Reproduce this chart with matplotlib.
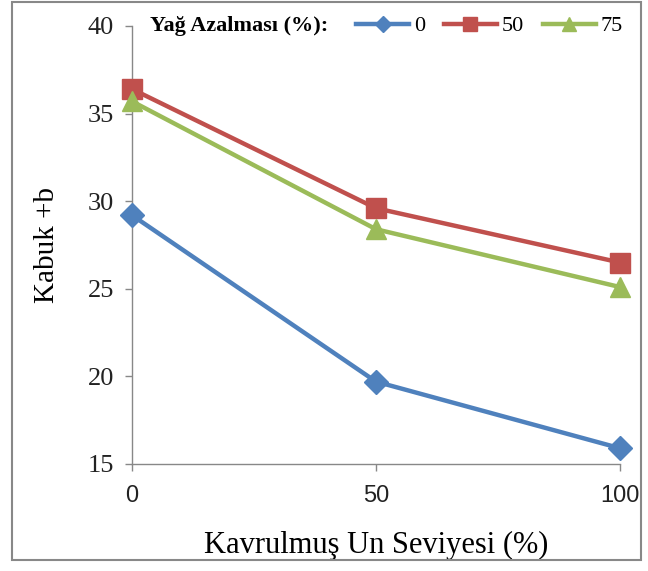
import matplotlib.pyplot as plt
from matplotlib.patches import Rectangle

# Kavrulmus un seviyesi (%)
un_seviyesi = [0, 50, 100]
# Yag azalmasi seviyeleri
yag_etiket = ['0', '50', '75']
kabuk_b_0 = [29.2, 19.7, 15.9]
kabuk_b_50 = [36.4, 29.6, 26.5]
kabuk_b_75 = [35.7, 28.4, 25.1]

renkler = ['#4F81BD', '#C0504D', '#9BBB59']
isaretler = ['D', 's', '^']
boylar = [12, 14, 15]

plt.rcParams['font.family'] = ['Liberation Serif', 'DejaVu Serif']

fig = plt.figure(figsize=(6.48, 5.71), dpi=100)
ax = fig.add_axes([132/648, 1-464/571, 488/648, 438/571])

seriler = [kabuk_b_0, kabuk_b_50, kabuk_b_75]
for i, s in enumerate(seriler):
    ax.plot(un_seviyesi, s, color=renkler[i], lw=3.2, marker=isaretler[i],
            markersize=boylar[i], label=yag_etiket[i], clip_on=False, zorder=3+i)

ax.set_xlim(0, 100)
ax.set_ylim(15, 40)
ax.set_xticks([0, 50, 100])
ax.set_yticks([15, 20, 25, 30, 35, 40])
for sp in ['top', 'right']:
    ax.spines[sp].set_visible(False)
for sp in ['left', 'bottom']:
    ax.spines[sp].set_color('#888888')
    ax.spines[sp].set_linewidth(1.0)
ax.tick_params(axis='both', direction='out', length=5, color='#888888', width=1.0)
ax.tick_params(axis='y', labelsize=19, pad=8, labelcolor='#222222')
ax.tick_params(axis='x', labelsize=17, pad=10, labelcolor='#222222')
for t in ax.get_xticklabels():
    t.set_family('Liberation Sans')

ax.set_ylabel('Kabuk +b', fontsize=21, labelpad=20)
ax.set_xlabel('Kavrulmuş Un Seviyesi (%)', fontsize=22, labelpad=17)

fig.text(150/648, 1-26/571, 'Yağ Azalması (%):', fontsize=16, fontweight='bold',
         va='center', ha='left')
leg = ax.legend(loc='center left', bbox_to_anchor=(356/648, 1-26/571),
                bbox_transform=fig.transFigure, ncol=3, frameon=False,
                fontsize=16, handlelength=2.4, handletextpad=0.2,
                columnspacing=0.85, markerscale=0.7, borderpad=0, borderaxespad=0)

fig.patches.append(Rectangle((12/648, 11/571), 629/648, 558/571, transform=fig.transFigure,
                             fill=False, edgecolor='#888888', lw=1.5))

fig.savefig('out.png', dpi=100)
